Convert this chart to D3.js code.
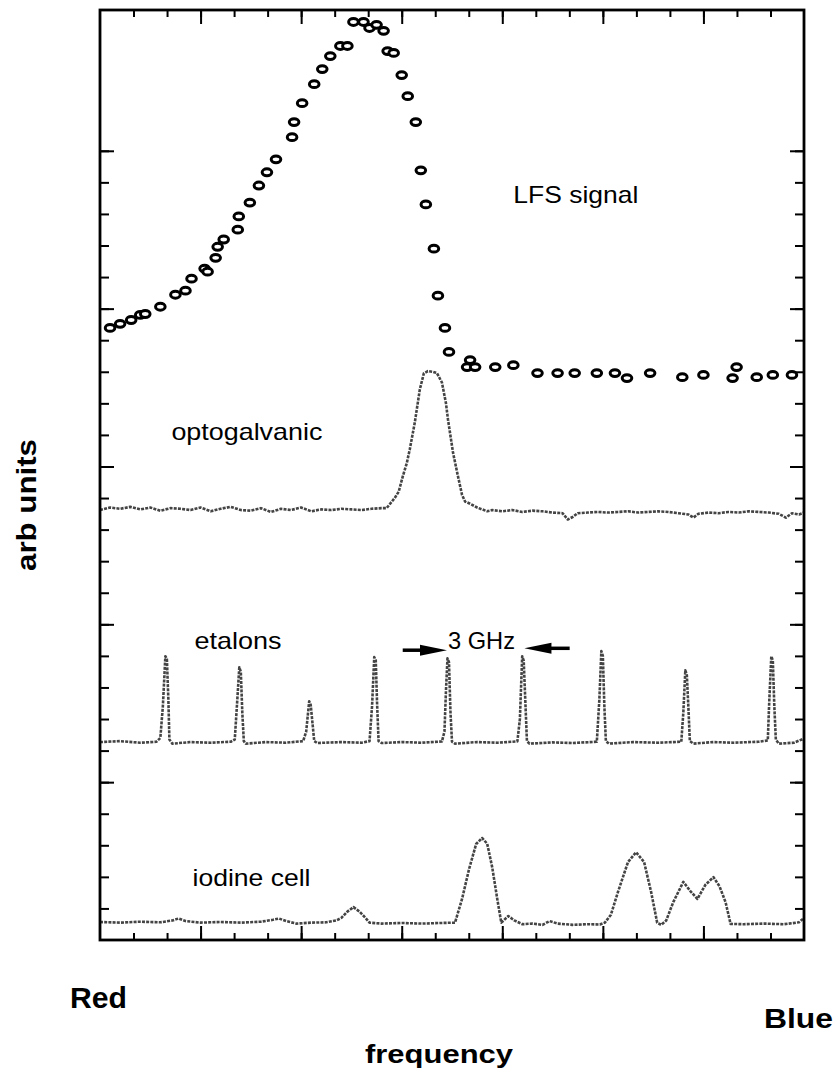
<!DOCTYPE html>
<html>
<head>
<meta charset="utf-8">
<script src="https://cdn.jsdelivr.net/npm/d3@7"></script>
<style>
body { margin:0; background:#fff; }
text { font-family: "Liberation Sans", Arial, Helvetica, sans-serif; fill:#000; }
</style>
</head>
<body>
<div id="chart"></div>
<script>
// LFS signal (open circles), [frequency, arb units]
const lfs = [
  [0.10,19.39],[0.20,19.52],[0.31,19.64],[0.40,19.80],[0.45,19.83],[0.60,20.06],
  [0.75,20.44],[0.85,20.57],[0.91,20.95],[1.04,21.27],[1.07,21.17],[1.15,21.61],
  [1.17,21.96],[1.23,22.19],[1.37,22.50],[1.38,22.92],[1.49,23.36],[1.58,23.90],
  [1.66,24.32],[1.75,24.73],[1.91,25.43],[1.93,25.91],[2.01,26.51],[2.13,27.11],
  [2.21,27.59],[2.29,28.00],[2.39,28.32],[2.46,28.32],[2.52,29.08],[2.62,29.08],
  [2.68,28.89],[2.75,28.99],[2.82,28.80],[2.86,28.16],[2.92,28.10],[3.00,27.40],
  [3.06,26.73],[3.14,25.91],[3.19,24.38],[3.24,23.30],[3.32,21.90],[3.36,20.41],
  [3.43,19.39],[3.47,18.63],[3.68,18.37],[3.65,18.15],[3.73,18.15],[3.93,18.15],
  [4.11,18.21],[4.35,17.96],[4.55,17.96],[4.72,17.96],[4.94,17.96],[5.12,17.96],
  [5.24,17.80],[5.47,17.96],[5.79,17.83],[6.00,17.90],[6.33,18.15],[6.29,17.80],
  [6.53,17.83],[6.69,17.90],[6.88,17.90]
];

// optogalvanic trace
const opto = [
  [0.00,13.62],[0.10,13.70],[0.20,13.66],[0.30,13.72],[0.40,13.64],[0.50,13.70],
  [0.60,13.60],[0.70,13.68],[0.80,13.66],[0.90,13.62],[1.00,13.70],[1.10,13.58],
  [1.20,13.66],[1.30,13.72],[1.40,13.62],[1.50,13.60],[1.60,13.68],[1.70,13.56],
  [1.80,13.66],[1.90,13.62],[2.00,13.70],[2.10,13.58],[2.20,13.64],[2.30,13.62],
  [2.40,13.66],[2.50,13.64],[2.60,13.62],[2.70,13.66],[2.80,13.68],[2.85,13.68],
  [2.93,14.00],[2.97,14.20],[3.01,14.68],[3.05,15.10],[3.08,15.54],[3.13,16.39],
  [3.18,17.44],[3.22,17.95],[3.26,18.02],[3.31,18.00],[3.35,17.96],[3.40,17.66],
  [3.44,17.00],[3.46,16.49],[3.51,15.44],[3.56,14.68],[3.60,14.10],[3.63,13.89],
  [3.68,13.82],[3.75,13.70],[3.85,13.58],[3.90,13.62],[4.00,13.58],[4.10,13.62],
  [4.20,13.56],[4.30,13.60],[4.40,13.58],[4.50,13.54],[4.60,13.52],[4.65,13.32],
  [4.70,13.40],[4.75,13.52],[4.85,13.54],[4.95,13.56],[5.05,13.54],[5.15,13.56],
  [5.25,13.58],[5.35,13.54],[5.45,13.56],[5.55,13.58],[5.65,13.56],[5.75,13.52],
  [5.85,13.48],[5.90,13.38],[5.95,13.50],[6.05,13.54],[6.15,13.52],[6.25,13.56],
  [6.35,13.54],[6.45,13.58],[6.55,13.56],[6.65,13.54],[6.75,13.50],[6.82,13.38],
  [6.88,13.52],[6.95,13.48],[7.00,13.54]
];

// etalon transmission trace
const etalon = [
  [0.00,6.27],[0.20,6.30],[0.40,6.25],[0.56,6.28],[0.60,6.40],[0.625,7.40],[0.65,8.99],
  [0.665,8.90],[0.68,7.60],[0.69,6.35],[0.72,6.22],[0.90,6.27],[1.10,6.25],[1.30,6.28],[1.34,6.35],
  [1.365,7.60],[1.385,8.64],[1.40,8.50],[1.415,7.20],[1.43,6.30],[1.45,6.22],[1.65,6.27],[1.85,6.25],
  [2.02,6.30],[2.05,6.60],[2.08,7.56],[2.095,7.45],[2.115,6.80],[2.13,6.30],[2.16,6.24],[2.40,6.27],
  [2.60,6.25],[2.68,6.30],[2.705,7.40],[2.727,8.96],[2.742,8.85],[2.755,7.50],[2.77,6.30],[2.80,6.24],
  [3.00,6.27],[3.20,6.25],[3.40,6.29],[3.425,6.60],[3.44,7.90],[3.455,8.92],[3.47,8.80],[3.485,7.20],
  [3.50,6.28],[3.53,6.22],[3.75,6.27],[3.95,6.25],[4.15,6.29],[4.175,7.00],[4.198,8.99],
  [4.213,8.85],[4.23,7.50],[4.245,6.30],[4.27,6.22],[4.50,6.26],[4.70,6.24],[4.94,6.28],[4.965,7.60],
  [4.985,9.15],[5.0,9.0],[5.015,7.40],[5.03,6.30],[5.06,6.22],[5.30,6.27],[5.55,6.25],[5.78,6.28],
  [5.80,7.20],[5.82,8.54],[5.835,8.40],[5.85,7.40],[5.865,6.30],[5.90,6.22],[6.10,6.27],[6.30,6.25],
  [6.55,6.28],[6.64,6.32],[6.655,7.60],[6.675,8.99],[6.69,8.85],[6.705,7.40],[6.72,6.35],[6.75,6.22],
  [6.90,6.25],[7.00,6.38]
];

// iodine cell absorption trace
const iodine = [
  [0.00,0.57],[0.20,0.55],[0.40,0.58],[0.60,0.56],[0.72,0.62],[0.78,0.68],[0.85,0.60],
  [1.00,0.55],[1.20,0.57],[1.40,0.55],[1.60,0.58],[1.72,0.64],[1.78,0.68],[1.85,0.60],
  [1.95,0.52],[2.10,0.55],[2.25,0.56],[2.35,0.62],[2.40,0.70],[2.46,0.90],[2.52,1.04],
  [2.58,0.90],[2.64,0.70],[2.68,0.55],[2.80,0.52],[3.00,0.54],[3.20,0.52],[3.40,0.54],
  [3.53,0.55],[3.60,1.30],[3.67,2.25],[3.74,3.04],[3.80,3.23],[3.85,3.05],[3.90,2.30],
  [3.95,1.30],[3.99,0.55],[4.06,0.76],[4.12,0.62],[4.20,0.50],[4.30,0.52],[4.40,0.48],
  [4.47,0.60],[4.55,0.52],[4.70,0.48],[4.85,0.50],[4.97,0.49],[5.02,0.55],[5.08,0.80],
  [5.15,1.52],[5.25,2.47],[5.33,2.78],[5.41,2.47],[5.48,1.52],[5.54,0.55],[5.58,0.48],
  [5.63,0.62],[5.70,1.20],[5.80,1.84],[5.87,1.55],[5.94,1.30],[6.02,1.75],[6.10,1.99],
  [6.16,1.70],[6.22,1.20],[6.27,0.51],[6.40,0.50],[6.60,0.52],[6.80,0.50],[6.95,0.56],
  [7.00,0.70]
];

// in-plot labels: text, x, baseline y (data units), drawn width
const labels = [
  ["LFS signal",   4.11, 23.35, 125],
  ["optogalvanic", 0.71, 15.85, 151],
  ["etalons",      0.94,  9.21,  87],
  ["3 GHz",        3.46,  9.21,  67],
  ["iodine cell",  0.92,  1.71, 118]
];

// "3 GHz" arrows: tail x, head x, y
const arrows = [[3.01, 3.45, 9.18], [4.67, 4.22, 9.24]];

const xMinor = d3.range(1, 21).map(k => k / 3);
const xMajor = [1, 2, 3, 4, 5, 6];
const yMinor = d3.range(1, 26);
const yMajor = [5, 10, 15, 20, 25];

const W = 834, H = 1071;
const svg = d3.select("#chart").append("svg").attr("width", W).attr("height", H);

const x = d3.scaleLinear().domain([0, 7]).range([100, 804]);
const y = d3.scaleLinear().domain([0, 29.46]).range([940, 10]);

function ticks(axisFn, vals, len, transform) {
  svg.append("g").attr("transform", transform)
    .call(axisFn.tickValues(vals).tickSize(-len).tickFormat(""))
    .call(g => g.select(".domain").remove())
    .selectAll("line").attr("stroke", "#000").attr("stroke-width", 2);
}
ticks(d3.axisBottom(x), xMinor, 7, "translate(0,940)");
ticks(d3.axisBottom(x), xMajor, 14, "translate(0,940)");
ticks(d3.axisTop(x), xMinor, 7, "translate(0,10)");
ticks(d3.axisTop(x), xMajor, 14, "translate(0,10)");
ticks(d3.axisLeft(y), yMinor, 9, "translate(100,0)");
ticks(d3.axisLeft(y), yMajor, 14, "translate(100,0)");
ticks(d3.axisRight(y), yMinor, 9, "translate(804,0)");
ticks(d3.axisRight(y), yMajor, 14, "translate(804,0)");

const line = d3.line().x(d => x(d[0])).y(d => y(d[1]));

[opto, etalon, iodine].forEach(tr => {
  svg.append("path").attr("d", line(tr))
    .attr("fill", "none").attr("stroke", "#444").attr("stroke-width", 2.6)
    .attr("stroke-dasharray", "3 1.2").attr("stroke-linejoin", "round");
});

svg.append("g").selectAll("ellipse").data(lfs).enter()
  .append("ellipse")
  .attr("cx", d => x(d[0])).attr("cy", d => y(d[1]))
  .attr("rx", 4.8).attr("ry", 3.4)
  .attr("fill", "#fff").attr("stroke", "#000").attr("stroke-width", 3);

svg.append("rect").attr("x", x(0)).attr("y", y(29.46))
  .attr("width", x(7) - x(0)).attr("height", y(0) - y(29.46))
  .attr("fill", "none").attr("stroke", "#000").attr("stroke-width", 2.8);

labels.forEach(l => {
  svg.append("text").attr("x", x(l[1])).attr("y", y(l[2]))
    .attr("font-size", 24).attr("textLength", l[3])
    .attr("lengthAdjust", "spacingAndGlyphs").text(l[0]);
});

arrows.forEach(a => {
  const x0 = x(a[0]), x1 = x(a[1]), yy = y(a[2]);
  const dir = Math.sign(x1 - x0), head = 27;
  svg.append("line").attr("x1", x0).attr("x2", x1 - dir * head + dir * 2)
    .attr("y1", yy).attr("y2", yy).attr("stroke", "#000").attr("stroke-width", 3.5);
  svg.append("path")
    .attr("d", `M${x1},${yy} L${x1 - dir * head},${yy - 5.5} L${x1 - dir * head},${yy + 5.5} Z`)
    .attr("fill", "#000");
});

// axis titles
svg.append("text").attr("x", 70).attr("y", 1008).attr("font-size", 29)
  .attr("font-weight", "bold").attr("textLength", 57).attr("lengthAdjust", "spacingAndGlyphs").text("Red");
svg.append("text").attr("x", 764).attr("y", 1028).attr("font-size", 28)
  .attr("font-weight", "bold").attr("textLength", 69).attr("lengthAdjust", "spacingAndGlyphs").text("Blue");
svg.append("text").attr("x", 365).attr("y", 1063).attr("font-size", 25)
  .attr("font-weight", "bold").attr("textLength", 148).attr("lengthAdjust", "spacingAndGlyphs").text("frequency");
svg.append("text").attr("transform", "translate(36,505) rotate(-90)")
  .attr("text-anchor", "middle").attr("font-size", 27).attr("font-weight", "bold")
  .attr("textLength", 132).attr("lengthAdjust", "spacingAndGlyphs").text("arb units");
</script>
</body>
</html>
